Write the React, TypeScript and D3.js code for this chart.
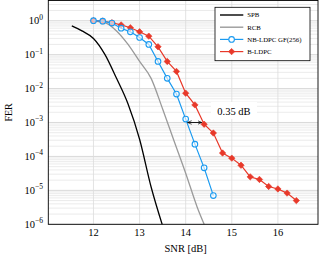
import React from "react";
import * as d3 from "d3";

// SNR [dB] grid used for the simulated codes
const snrNB = [12.0, 12.2, 12.4, 12.6, 12.8, 13.0, 13.2, 13.4, 13.6, 13.8, 14.0, 14.2, 14.4, 14.6];
const ferNB = [1.0, 0.97, 0.85, 0.6, 0.47, 0.32, 0.2, 0.063, 0.02, 0.0069, 1.26e-3, 2.3e-4, 4.6e-5, 7e-6];

const snrB = [12.0, 12.2, 12.4, 12.6, 12.8, 13.0, 13.2, 13.4, 13.6, 13.8, 14.0, 14.2, 14.4, 14.6, 14.8, 15.0, 15.2, 15.4, 15.6, 15.8, 16.0, 16.2, 16.4];
const ferB = [1.0, 0.98, 0.87, 0.75, 0.62, 0.47, 0.35, 0.17, 0.063, 0.032, 7.3e-3, 3.3e-3, 8.9e-4, 4.9e-4, 1.26e-4, 8.9e-5, 5.5e-5, 2.5e-5, 2.1e-5, 1.3e-5, 1.1e-5, 8.3e-6, 5e-6];

const snrSPB = [11.53, 11.75, 12.0, 12.25, 12.5, 12.75, 13.0, 13.25, 13.5];
const ferSPB = [0.7, 0.5, 0.3, 0.1, 0.02, 3.5e-3, 3.2e-4, 1.26e-5, 9e-7];

const snrRCB = [12.0, 12.25, 12.5, 12.75, 13.0, 13.25, 13.5, 13.75, 14.0, 14.25, 14.45];
const ferRCB = [0.98, 0.88, 0.5, 0.2, 0.063, 0.02, 2.5e-3, 2.8e-4, 3.2e-5, 3.2e-6, 7e-7];

const xTicks = [12, 13, 14, 15, 16];
const yExponents = [0, -1, -2, -3, -4, -5, -6];

const legendItems = ["SPB", "RCB", "NB-LDPC GF(256)", "B-LDPC"];

const BLUE = "#1a9af0";
const RED = "#e8392a";
const FONT = "'Liberation Serif', 'DejaVu Serif', serif";

const App = () => {
  const width = 319;
  const height = 258;
  const left = 48.3;
  const right = 318;
  const top = 0.5;
  const bottom = 224.3;

  const x = d3.scaleLinear().domain([11.02, 16.87]).range([left, right]);
  const y = d3.scaleLog().domain([1e-6, Math.pow(10, 0.595)]).range([bottom, top]);

  const line = d3
    .line<[number, number]>()
    .x((d) => x(d[0]))
    .y((d) => y(d[1]));
  const smooth = d3
    .line<[number, number]>()
    .x((d) => x(d[0]))
    .y((d) => y(d[1]))
    .curve(d3.curveMonotoneX);

  const zip = (a: number[], b: number[]) => a.map((v, i) => [v, b[i]] as [number, number]);

  // minor grid values 2..9 per decade
  const minor: number[] = [];
  for (let e = -6; e <= 0; e++) {
    for (let m = 2; m <= 9; m++) {
      const v = m * Math.pow(10, e);
      if (y(v) > top) minor.push(v);
    }
  }

  const diamond = (cx: number, cy: number, s: number) =>
    `M${cx},${cy - s}L${cx + s},${cy}L${cx},${cy + s}L${cx - s},${cy}Z`;

  const arrowY = y(1e-3);
  const ax0 = x(14.02);
  const ax1 = x(14.37);

  return (
    <svg
      width={width}
      height={height}
      style={{ position: "absolute", left: 0, top: 0, background: "#fff" }}
      fontFamily={FONT}
    >
      <defs>
        <clipPath id="plot">
          <rect x={left} y={top} width={right - left} height={bottom - top} />
        </clipPath>
        <marker id="arr" viewBox="0 0 10 10" refX="9" refY="5" markerWidth="5" markerHeight="5" orient="auto-start-reverse">
          <path d="M0,1 L9,5 L0,9" fill="none" stroke="#000" strokeWidth={1.5} />
        </marker>
      </defs>

      {/* grid */}
      {minor.map((v) => (
        <line key={"m" + v} x1={left} x2={right} y1={y(v)} y2={y(v)} stroke="#e3e3e3" strokeWidth={0.7} />
      ))}
      {yExponents.map((e) => (
        <line key={"M" + e} x1={left} x2={right} y1={y(Math.pow(10, e))} y2={y(Math.pow(10, e))} stroke="#cfcfcf" strokeWidth={0.8} />
      ))}
      {xTicks.map((t) => (
        <line key={"x" + t} x1={x(t)} x2={x(t)} y1={top} y2={bottom} stroke="#dcdcdc" strokeWidth={0.8} />
      ))}

      <g clipPath="url(#plot)">
        <path d={smooth(zip(snrSPB, ferSPB)) || ""} fill="none" stroke="#000" strokeWidth={1.3} />
        <path d={smooth(zip(snrRCB, ferRCB)) || ""} fill="none" stroke="#9a9a9a" strokeWidth={1.3} />
        <path d={line(zip(snrB, ferB)) || ""} fill="none" stroke={RED} strokeWidth={1.2} />
        {snrB.map((s, i) => (
          <path key={"b" + i} d={diamond(x(s), y(ferB[i]), 3.2)} fill={RED} stroke={RED} strokeWidth={0.6} />
        ))}
        <path d={line(zip(snrNB, ferNB)) || ""} fill="none" stroke={BLUE} strokeWidth={1.2} />
        {snrNB.map((s, i) => (
          <circle key={"n" + i} cx={x(s)} cy={y(ferNB[i])} r={2.8} fill="#fff" fillOpacity={0.6} stroke={BLUE} strokeWidth={1.1} />
        ))}
      </g>

      {/* 0.35 dB annotation */}
      <line x1={ax0 + 1} x2={ax1 - 1} y1={arrowY} y2={arrowY} stroke="#000" strokeWidth={0.9} markerStart="url(#arr)" markerEnd="url(#arr)" />
      <rect x={211} y={102} width={46} height={17} fill="#fff" />
      <text x={234} y={114.5} fontSize={10.5} textAnchor="middle">0.35 dB</text>

      {/* frame */}
      <rect x={left} y={top} width={right - left} height={bottom - top} fill="none" stroke="#000" strokeWidth={0.9} />

      {/* x ticks */}
      {xTicks.map((t) => (
        <text key={"xt" + t} x={x(t)} y={236} fontSize={10.5} textAnchor="middle">{t}</text>
      ))}
      <text x={x(14)} y={252} fontSize={10.5} textAnchor="middle">SNR [dB]</text>

      {/* y ticks */}
      {yExponents.map((e) => (
        <text key={"yt" + e} x={43} y={y(Math.pow(10, e)) + 3.5} fontSize={10.5} textAnchor="end">
          10
          <tspan dy={-4.5} fontSize={7.5}>{e === 0 ? "0" : "\u2212" + -e}</tspan>
        </text>
      ))}
      <text transform={`translate(12,${(top + bottom) / 2}) rotate(-90)`} fontSize={10} textAnchor="middle">FER</text>

      {/* legend */}
      <rect x={215} y={7.3} width={95} height={53.4} fill="#fff" stroke="#000" strokeWidth={0.8} />
      {legendItems.map((name, i) => {
        const ly = 15 + i * 12.2;
        const color = i === 0 ? "#000" : i === 1 ? "#9a9a9a" : i === 2 ? BLUE : RED;
        return (
          <g key={name}>
            <line x1={220} x2={243.3} y1={ly} y2={ly} stroke={color} strokeWidth={i < 2 ? 1.4 : 1.2} />
            {i === 2 && <circle cx={231.6} cy={ly} r={2.8} fill="#fff" stroke={BLUE} strokeWidth={1.1} />}
            {i === 3 && <path d={diamond(231.6, ly, 3.2)} fill={RED} stroke={RED} strokeWidth={0.6} />}
            <text x={247.3} y={ly + 2.3} fontSize={6.8}>{name}</text>
          </g>
        );
      })}
    </svg>
  );
};

export default App;
